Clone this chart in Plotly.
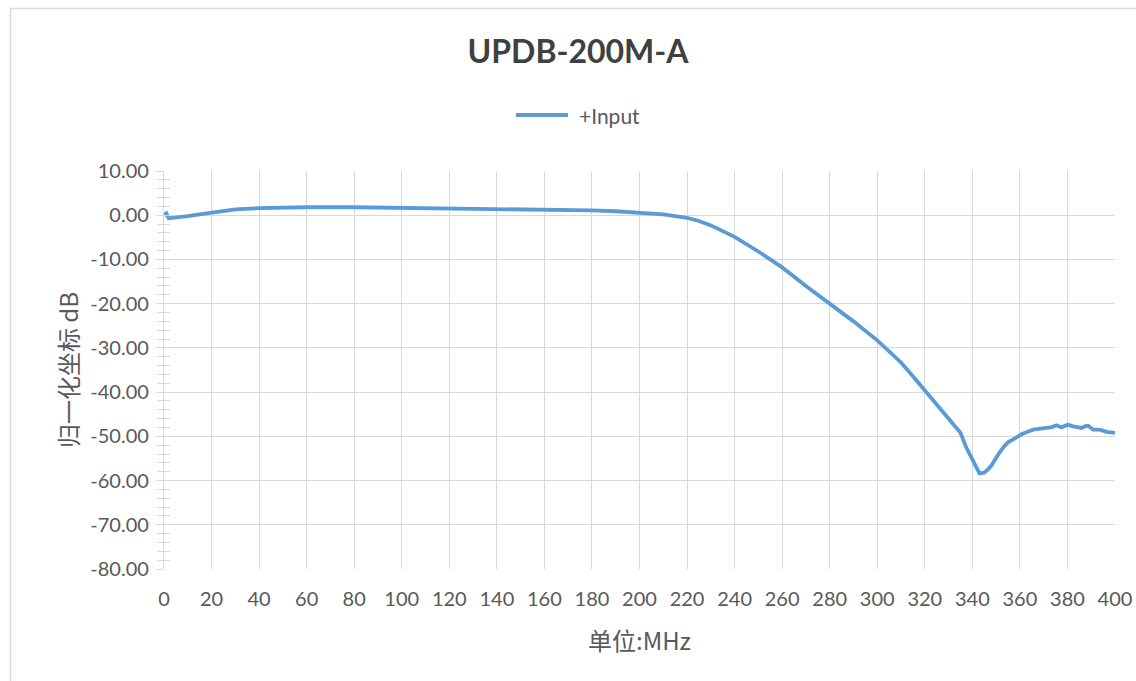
import plotly.graph_objects as go

# ---- data ----
freq_mhz = [0, 1, 2, 4, 7, 10, 15, 20, 25, 30, 40, 50, 60, 80, 100, 120, 140, 160, 180,
            190, 200, 210, 220, 225, 230, 240, 250, 260, 270, 280, 290, 300, 305, 310,
            315, 320, 325, 329, 332, 335, 337.5, 339.6, 341.5, 343, 345, 346.6, 348,
            350, 351.6, 353.5, 355.1, 357.2, 359, 360.7, 363, 365.6, 368, 371.2, 373.5,
            375.4, 377.5, 379, 380.3, 382, 383.8, 385.9, 387.5, 388.7, 390.8, 393.6,
            396.4, 398, 400]
gain_db = [0.0, 0.4, -0.7, -0.6, -0.4, -0.2, 0.2, 0.6, 1.0, 1.3, 1.6, 1.75, 1.8, 1.8,
           1.7, 1.6, 1.5, 1.3, 1.1, 0.9, 0.6, 0.2, -0.6, -1.3, -2.3, -4.9, -8.2, -11.8,
           -16.0, -20.0, -24.0, -28.3, -30.7, -33.3, -36.4, -39.6, -42.6, -45.2, -47.0,
           -49.2, -52.6, -54.9, -57.0, -58.4, -58.2, -57.5, -56.6, -54.8, -53.5, -52.2,
           -51.3, -50.7, -50.1, -49.5, -49.0, -48.5, -48.3, -48.0, -47.9, -47.5, -48.0,
           -47.6, -47.4, -47.7, -47.8, -48.1, -47.7, -47.6, -48.5, -48.5, -49.0, -49.0,
           -49.2]

x_ticks = list(range(0, 401, 20))
y_ticks = list(range(-80, 11, 10))
y_tick_text = [f"{v:.2f}" for v in y_ticks]

series_name = "+Input"
title_text = "UPDB-200M-A"
x_title = "单位:MHz"
y_title = "归一化坐标 dB"

LINE_COLOR = "#5B9BD5"
TEXT_COLOR = "#595959"
GRID_COLOR = "#D9D9D9"
FONT = "Lato, 'Noto Sans CJK SC', sans-serif"
CJK_FONT = "'Noto Sans CJK SC', Lato, sans-serif"

W, H = 1136, 681
L, R, T, B = 164, 21, 171, 112
pw, ph = W - L - R, H - T - B


def px(fx):
    return (fx - L) / pw


def py(fy):
    return (H - B - fy) / ph


fig = go.Figure()
fig.add_trace(go.Scatter(
    x=freq_mhz, y=gain_db, mode="lines", name=series_name,
    line=dict(color=LINE_COLOR, width=3.8), showlegend=False,
))
# helper trace so the overlaying axis (inside ticks) is drawn
fig.add_trace(go.Scatter(x=[None], y=[None], yaxis="y2", showlegend=False,
                         hoverinfo="skip"))

fig.update_layout(
    width=W, height=H,
    margin=dict(l=L, r=R, t=T, b=B, autoexpand=False),
    paper_bgcolor="white", plot_bgcolor="white",
    font=dict(family=FONT, color=TEXT_COLOR),
    title=dict(text=f"<b>{title_text}</b>", x=578 / W, xanchor="center",
               y=1 - 52 / H, yanchor="middle",
               font=dict(size=32, color="#404040", family=FONT)),
    showlegend=False,
    xaxis=dict(
        range=[0, 400], tickvals=x_ticks, ticktext=[str(v) for v in x_ticks],
        showgrid=True, gridcolor=GRID_COLOR, gridwidth=1.3,
        zeroline=False, showline=False, ticks="", automargin=False,
        ticklabelstandoff=16,
        tickfont=dict(size=20, color=TEXT_COLOR),
        title=dict(text=x_title, font=dict(size=24, color=TEXT_COLOR, family=CJK_FONT),
                   standoff=24),
    ),
    yaxis=dict(
        range=[-80, 10], tickvals=y_ticks, ticktext=y_tick_text,
        showgrid=True, gridcolor=GRID_COLOR, gridwidth=1.3,
        zeroline=False, showline=True, linecolor=GRID_COLOR, linewidth=1.3,
        ticks="outside", ticklen=7, tickcolor=GRID_COLOR, tickwidth=1.3,
        minor=dict(dtick=2, ticks="outside", ticklen=6, tickcolor=GRID_COLOR,
                   tickwidth=1.3, showgrid=False),
        ticklabelstandoff=3, automargin=False,
        tickfont=dict(size=20, color=TEXT_COLOR),
        title=dict(text=y_title, font=dict(size=24, color=TEXT_COLOR, family=CJK_FONT),
                   standoff=4),
    ),
    yaxis2=dict(
        overlaying="y", side="left", range=[-80, 10], tickvals=y_ticks,
        showticklabels=False, showgrid=False, zeroline=False, showline=False,
        ticks="inside", ticklen=7, tickcolor=GRID_COLOR, tickwidth=1.3,
        minor=dict(dtick=2, ticks="inside", ticklen=6, tickcolor=GRID_COLOR,
                   tickwidth=1.3, showgrid=False),
    ),
    shapes=[
        # chart frame
        dict(type="rect", xref="paper", yref="paper",
             x0=px(10.5), x1=px(W + 20), y0=py(H + 20), y1=py(8.5),
             line=dict(color="#D9D9D9", width=1.5), fillcolor="rgba(0,0,0,0)",
             layer="below"),
        # legend swatch
        dict(type="line", xref="paper", yref="paper",
             x0=px(516), x1=px(568), y0=py(115), y1=py(115),
             line=dict(color=LINE_COLOR, width=3.8)),
    ],
    annotations=[
        dict(text=series_name, xref="paper", yref="paper", x=px(577), y=py(115),
             xanchor="left", yanchor="middle", showarrow=False,
             font=dict(size=21, color=TEXT_COLOR, family=FONT)),
    ],
)

fig.write_html(
    "out.html",
    config={"displayModeBar": False},
    post_script="document.body.style.margin='0';document.body.style.overflow='hidden';",
)
